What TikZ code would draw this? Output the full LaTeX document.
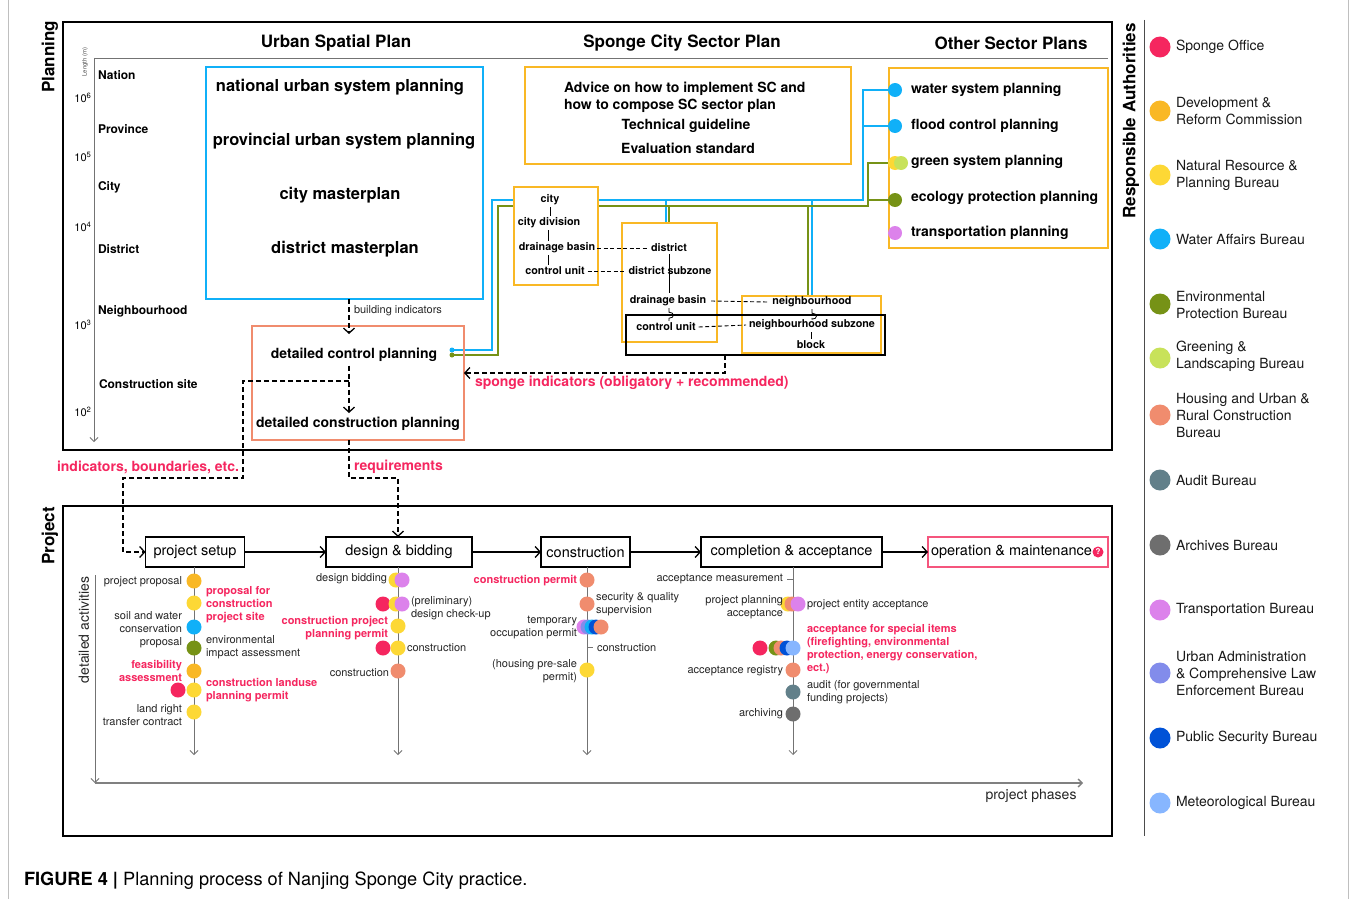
\documentclass[tikz,border=0pt]{standalone}
\usepackage{fontspec}
\setmainfont{TeX Gyre Heros}
\usetikzlibrary{arrows.meta,calc}
\pgfdeclarelayer{bg}
\pgfsetlayers{bg,main}
\definecolor{cSponge}{RGB}{245,38,95}
\definecolor{cDRC}{RGB}{249,184,37}
\definecolor{cNRPB}{RGB}{253,216,53}
\definecolor{cWater}{RGB}{16,176,248}
\definecolor{cEnv}{RGB}{118,146,22}
\definecolor{cGreen}{RGB}{200,226,90}
\definecolor{cHouse}{RGB}{240,140,110}
\definecolor{cAudit}{RGB}{98,128,138}
\definecolor{cArch}{RGB}{110,110,110}
\definecolor{cTrans}{RGB}{220,130,235}
\definecolor{cUrban}{RGB}{130,140,235}
\definecolor{cPolice}{RGB}{0,82,215}
\definecolor{cMeteo}{RGB}{135,182,255}
\definecolor{cPink}{RGB}{245,85,125}
\tikzset{
  every node/.style={inner sep=0pt, outer sep=0pt},
  fr/.style={draw=black, line width=2pt},
  hdr/.style={font=\fontsize{17}{20}\selectfont\bfseries},
  scl/.style={font=\fontsize{12}{14}\selectfont\bfseries, anchor=west},
  tkl/.style={font=\fontsize{11}{13}\selectfont},
  big/.style={font=\fontsize{16.5}{20}\selectfont\bfseries},
  mdb/.style={font=\fontsize{14}{17}\selectfont\bfseries},
  smb/.style={font=\fontsize{10.8}{13}\selectfont\bfseries},
  nt/.style={font=\fontsize{11}{13}\selectfont, text=black!85},
  rn/.style={font=\fontsize{11}{13}\selectfont\bfseries, text=cSponge},
  redlab/.style={font=\fontsize{14}{17}\selectfont\bfseries, text=cSponge},
  phbox/.style={draw=black, line width=1.3pt, minimum height=30pt, font=\fontsize{14.5}{17}\selectfont},
  leg/.style={font=\fontsize{14}{17}\selectfont, anchor=west, align=left, text=black!90},
  ldot/.style={circle, fill=#1, minimum size=21pt},
  pdot/.style={circle, fill=#1, minimum size=15pt},
  odot/.style={circle, fill=#1, minimum size=14pt},
  dsh/.style={draw=black, line width=1.3pt, dash pattern=on 5pt off 3pt},
  barb/.style={-{Straight Barb[length=5pt,width=11pt]}},
  sbarb/.style={-{Straight Barb[length=4pt,width=8pt]}},
  pl/.style={line width=2pt},
  gl/.style={draw=black!55, line width=0.8pt},
  obox/.style={draw=cDRC, line width=1.8pt},
  thd/.style={line width=0.9pt, dash pattern=on 4pt off 2.5pt},
}
\begin{document}
\begin{tikzpicture}[x=1pt,y=-1pt]
\useasboundingbox (0,0) rectangle (1356,899);
\begin{pgfonlayer}{bg}
\fill[white] (0,0) rectangle (1356,899);
\end{pgfonlayer}
\draw[black!25, line width=0.8pt] (8,0) -- (8,899) (1348,0) -- (1348,899);

% ================= PLANNING =================
\node[fr, minimum width=1049pt, minimum height=428pt] (planF) at (587.5,236) {};
\node[hdr, rotate=90] (plLab) at (50,57) {Planning};
\node[hdr] (hUSP) at (336,43) {Urban Spatial Plan};
\node[hdr] (hSC) at (682,43) {Sponge City Sector Plan};
\node[hdr] (hOS) at (1011,43) {Other Sector Plans};
\draw[gl] (94,58) -- (1108,58);
\draw[gl, sbarb] (94,58) -- (94,442);
\node[font=\fontsize{6}{7}\selectfont, rotate=90, text=black!70] (lenlab) at (85,62) {Length (m)};
\node[tkl] (t6) at (83,98) {10\textsuperscript{6}};
\node[tkl] (t5) at (83,157) {10\textsuperscript{5}};
\node[tkl] (t4) at (83,227) {10\textsuperscript{4}};
\node[tkl] (t3) at (83,325) {10\textsuperscript{3}};
\node[tkl] (t2) at (83,412) {10\textsuperscript{2}};
\node[scl] (sNat) at (98,75) {Nation};
\node[scl] (sPro) at (98,129) {Province};
\node[scl] (sCit) at (98,187) {City};
\node[scl] (sDis) at (98,249) {District};
\node[scl] (sNei) at (98,311) {Neighbourhood};
\node[scl] (sCon) at (99,384) {Construction site};

% urban spatial plan
\node[draw=cWater, line width=2pt, minimum width=277pt, minimum height=232pt] (uspbox) at (344.5,183) {};
\node[big] (u1) at (340,87) {national urban system planning};
\node[big] (u2) at (344,141) {provincial urban system planning};
\node[big] (u3) at (340,195) {city masterplan};
\node[big] (u4) at (345,249) {district masterplan};

\node[draw=cHouse, line width=2pt, minimum width=212pt, minimum height=114pt] (dcbox) at (358,383) {};
\node[mdb] (dcp) at (354,355) {detailed control planning};
\node[mdb] (dcsp) at (358,424) {detailed construction planning};
\node[circle, fill=cWater, minimum size=5pt] (sb) at (452,350) {};
\node[circle, fill=cEnv, minimum size=5pt] (sg) at (452,355) {};

% sponge city sector
\node[obox, minimum width=326pt, minimum height=97pt] (scbox) at (688,115.5) {};
\node[mdb, anchor=west, align=left] (adv) at (564,97.5) {Advice on how to implement SC and\\how to compose SC sector plan};
\node[mdb] (tg) at (686,126) {Technical guideline};
\node[mdb] (es) at (688,148) {Evaluation standard};

\node[obox, fill=white, minimum width=84pt, minimum height=98pt] (citybox) at (556,236) {};
\node[smb] (cty) at (550,200) {city};
\node[smb] (cdv) at (549,223) {city division};
\node[smb] (cdb) at (557,248) {drainage basin};
\node[smb] (ccu) at (555,271) {control unit};
\draw[line width=0.8pt] (cty.south) ++(0,2) -- ($(cty.south |- cdv.north)+(0,-2)$);
\draw[line width=0.8pt] ($(cdv.south)+(-1,2)$) -- ($(cdv.south |- cdb.north)+(-1,-2)$);
\draw[line width=0.8pt] ($(cdv.south |- cdb.south)+(-1,2)$) -- ($(cdv.south |- ccu.north)+(-1,-2)$);

\node[obox, minimum width=95pt, minimum height=119pt] (distbox) at (669.5,282.5) {};
\node[obox, minimum width=139pt, minimum height=57pt] (neibox) at (811.5,324.5) {};
\node[draw=black, line width=1.5pt, minimum width=259pt, minimum height=40pt] (blk) at (755.5,335) {};
\node[smb] (dis) at (669,248) {district};
\node[smb] (dsz) at (670,271) {district subzone};
\node[smb] (dbn) at (668,301) {drainage basin};
\node[smb] (dcu) at (666,327) {control unit};
\node[smb] (nbh) at (812,302) {neighbourhood};
\node[smb] (nbs) at (812,325) {neighbourhood subzone};
\node[smb] (blck) at (811,345) {block};
\draw[line width=0.8pt] ($(dis.south)+(0,2)$) -- ($(dis.south |- dbn.north)+(0,-3)$);
\draw[line width=0.8pt] ($(dis.south |- dbn.south)+(0,2)$) -- ++(0,4) to[out=0,in=0,looseness=2.5] ++(0,6) -- ($(dis.south |- dcu.north)+(0,-2)$);
\draw[line width=0.8pt] ($(nbh.south)+(0,2)$) -- ++(0,4) to[out=0,in=0,looseness=2.5] ++(0,6) -- ($(nbh.south |- nbs.north)+(0,-2)$);
\draw[line width=0.8pt] ($(blck.north |- nbs.south)+(0,2)$) -- ($(blck.north)+(0,-2)$);
\draw[thd] ($(cdb.east)+(2,0)$) -- ($(dis.west)+(-4,0)$);
\draw[thd] ($(ccu.east)+(3,0)$) -- ($(dsz.west)+(-3,0)$);
\draw[thd] ($(dbn.east)+(5,0)$) -- ($(nbh.west)+(-5,0)$);
\draw[thd] ($(dcu.east)+(3,0)$) -- ($(nbs.west)+(-3,0)$);

% other sector plans
\node[obox, minimum width=219pt, minimum height=180pt] (osbox) at (998.5,158) {};
\node[odot=cWater] (wdot) at (895,90) {};
\node[odot=cWater] (fdot) at (895,126) {};
\node[odot=cNRPB] (ydot) at (895,163) {};
\node[odot=cGreen] (gdot) at (901,163) {};
\node[odot=cEnv] (edot) at (895,200) {};
\node[odot=cTrans] (tdot) at (895,233) {};
\node[mdb, anchor=west] (o1) at (911,90) {water system planning};
\node[mdb, anchor=west] (o2) at (911,126) {flood control planning};
\node[mdb, anchor=west] (o3) at (911,162) {green system planning};
\node[mdb, anchor=west] (o4) at (911,198) {ecology protection planning};
\node[mdb, anchor=west] (o5) at (911,233) {transportation planning};

\coordinate (bx) at (863,200);
\coordinate (gx) at (868,206);
\begin{pgfonlayer}{bg}
\draw[pl, cWater] (sb.center) -- (492,350) -- (492,200) -- (bx) |- (wdot.center);
\draw[pl, cWater] (bx |- fdot.center) -- (fdot.center);
\draw[pl, cWater] (666,200) -- (distbox.north -| 666,0);
\draw[pl, cWater] (812,200) -- (neibox.north -| 812,0);
\draw[pl, cEnv] (sg.center) -- (498,355) -- (498,206) -- (gx) |- (ydot.center);
\draw[pl, cEnv] (gx |- edot.center) -- (edot.center);
\draw[pl, cEnv] (669,206) -- (distbox.north -| 669,0);
\draw[pl, cEnv] (808,206) -- (neibox.north -| 808,0);
\end{pgfonlayer}

% ================= LEGEND =================
\draw[black!70, line width=1pt] (1144,20) -- (1144,836);
\node[hdr, rotate=90] (raLab) at (1131,121) {Responsible Authorities};
\begin{scope}
\clip (1140,0) rectangle (1320,899);
\node[ldot=cSponge] (l1) at (1160,47) {};
\node[leg] at (1176,47) {Sponge Office};
\node[ldot=cDRC] (l2) at (1160,111) {};
\node[leg] at (1176,111.5) {Development \&\\Reform Commission};
\node[ldot=cNRPB] (l3) at (1160,175) {};
\node[leg] at (1176,175.5) {Natural Resource \&\\Planning Bureau};
\node[ldot=cWater] (l4) at (1160,239) {};
\node[leg] at (1176,239) {Water Affairs Bureau};
\node[ldot=cEnv] (l5) at (1160,304) {};
\node[leg] at (1176,305) {Environmental\\Protection Bureau};
\node[ldot=cGreen] (l6) at (1160,358) {};
\node[leg] at (1176,356.5) {Greening \&\\Landscaping Bureau};
\node[ldot=cHouse] (l7) at (1160,415) {};
\node[leg] at (1176,415) {Housing and Urban \&\\Rural Construction\\Bureau};
\node[ldot=cAudit] (l8) at (1160,480) {};
\node[leg] at (1176,480) {Audit Bureau};
\node[ldot=cArch] (l9) at (1160,545) {};
\node[leg] at (1176,545) {Archives Bureau};
\node[ldot=cTrans] (l10) at (1160,610) {};
\node[leg] at (1176,610) {Transportation Bureau};
\node[ldot=cUrban] (l11) at (1160,673) {};
\node[leg] at (1176,673) {Urban Administration\\\& Comprehensive Law\\Enforcement Bureau};
\node[ldot=cPolice] (l12) at (1160,738) {};
\node[leg] at (1176,738) {Public Security Bureau};
\node[ldot=cMeteo] (l13) at (1160,803) {};
\node[leg] at (1176,803) {Meteorological Bureau};
\end{scope}

% ================= PROJECT =================
\node[fr, minimum width=1049pt, minimum height=330pt] (projF) at (587.5,671) {};
\node[hdr, rotate=90] (prLab) at (50,536) {Project};
\node[font=\fontsize{14}{17}\selectfont, rotate=90, text=black!85] (daLab) at (84,630) {detailed activities};
\draw[gl, sbarb] (95,575) -- (95,783);
\draw[draw=black!50, line width=1.3pt, sbarb] (95,783) -- (1083,783);
\node[font=\fontsize{14}{17}\selectfont, text=black!85] (ppLab) at (1031,796) {project phases};

\node[phbox, minimum width=99pt] (setup) at (195,552) {project setup};
\node[phbox, minimum width=146pt] (design) at (399,552) {design \& bidding};
\node[phbox, minimum width=89pt] (constr) at (585.5,552) {construction};
\node[phbox, minimum width=181pt] (compl) at (791.5,552) {completion \& acceptance};
\node[draw=cPink, line width=1.3pt, minimum width=180pt, minimum height=30pt] (oper) at (1018,552) {};
\node[font=\fontsize{14.5}{17}\selectfont, anchor=west] (opertxt) at (931,552) {operation \& maintenance};
\node[circle, fill=cSponge, minimum size=11pt, text=white, font=\fontsize{8}{8}\selectfont\bfseries] (qicon) at (1098,552) {?};
\draw[line width=1.3pt, barb] (setup.east) -- (design.west);
\draw[line width=1.3pt, barb] (design.east) -- (constr.west);
\draw[line width=1.3pt, barb] (constr.east) -- (compl.west);
\draw[line width=1.3pt, barb] (compl.east) -- (oper.west);

% dashed flows
\coordinate (ba) at (349,334);
\coordinate (bb) at (349,413);
\coordinate (br1) at (349,381);
\coordinate (rq) at (398,478);
\coordinate (si) at (725,373);
\draw[dsh, barb] (uspbox.south -| ba) -- (ba);
\node[nt, anchor=west] (bilab) at (354,311) {building indicators};
\draw[dsh, barb] ($(dcp.south -| ba)+(0,4)$) -- (bb);
\draw[dsh, barb] (br1) -- (243,381) -- (243,478) -- (123,478) |- (setup.west);
\draw[dsh, barb] (dcbox.south -| ba) -- (349,478) -- (rq) -- (rq |- design.north);
\draw[dsh, barb] (blk.south -| si) -- (si) -- (dcbox.east |- si);
\node[redlab, anchor=west] (silab) at (475,383) {sponge indicators (obligatory + recommended)};
\node[redlab, anchor=west] (iblab) at (57,467) {indicators, boundaries, etc.};
\node[redlab, anchor=west] (rqlab) at (354,467) {requirements};

\coordinate (tl1) at (194,755);
\coordinate (tl2) at (398,755);
\coordinate (tl3) at (587,755);
\coordinate (tl4) at (793,755);
\draw[gl, sbarb] (setup.south -| tl1) -- (tl1);
\draw[gl, sbarb] (design.south -| tl2) -- (tl2);
\draw[gl, sbarb] (constr.south -| tl3) -- (tl3);
\draw[gl, sbarb] (compl.south -| tl4) -- (tl4);

% project setup activities
\node[pdot=cDRC] (a1) at (194,581) {};
\node[pdot=cNRPB] (a2) at (194,603) {};
\node[pdot=cWater] (a3) at (194,627) {};
\node[pdot=cEnv] (a4) at (194,648) {};
\node[pdot=cDRC] (a5) at (194,671) {};
\node[pdot=cSponge] (a6r) at (178,690) {};
\node[pdot=cNRPB] (a6) at (194,690) {};
\node[pdot=cNRPB] (a7) at (194,712) {};
\node[nt, anchor=east] at (182,582) {project proposal};
\node[rn, anchor=west, align=left] at (206,605) {proposal for\\construction\\project site};
\node[nt, anchor=east, align=right] at (182,630) {soil and water\\conservation\\proposal};
\node[nt, anchor=west, align=left] at (206,647.5) {environmental\\impact assessment};
\node[rn, anchor=east, align=right] at (182,670.5) {feasibility\\assessment};
\node[rn, anchor=west, align=left] at (206,690.5) {construction landuse\\planning permit};
\node[nt, anchor=east, align=right] at (182,715.5) {land right\\transfer contract};

% design & bidding activities
\node[pdot=cNRPB] (b1y) at (396,580) {};
\node[pdot=cTrans] (b1) at (402,580) {};
\node[pdot=cSponge] (b2r) at (383,604) {};
\node[pdot=cNRPB] (b2y) at (396,604) {};
\node[pdot=cTrans] (b2) at (402,604) {};
\node[pdot=cNRPB] (b3) at (398,626) {};
\node[pdot=cSponge] (b4r) at (383,648) {};
\node[pdot=cNRPB] (b4) at (398,648) {};
\node[pdot=cHouse] (b5) at (398,671) {};
\node[nt, anchor=east] at (387,579) {design bidding};
\node[nt, anchor=west, align=left] at (411,608.5) {(preliminary)\\design check-up};
\node[rn, anchor=east, align=right] at (388,628) {construction project\\planning permit};
\node[nt, anchor=west] at (407,648) {construction};
\node[nt, anchor=east] at (389,673) {construction};

% construction activities
\node[pdot=cHouse] (c1) at (587,580) {};
\node[pdot=cHouse] (c2) at (587,604) {};
\node[pdot=cTrans] (c3a) at (584,627) {};
\node[pdot=cUrban] (c3b) at (588,627) {};
\node[pdot=cWater] (c3c) at (592,627) {};
\node[pdot=cPolice] (c3d) at (596,627) {};
\node[pdot=cHouse] (c3e) at (601,627) {};
\node[pdot=cNRPB] (c5) at (587,670) {};
\node[rn, anchor=east] at (577,581) {construction permit};
\node[nt, anchor=west, align=left] at (596,604.5) {security \& quality\\supervision};
\node[nt, anchor=east, align=right] at (577,627.5) {temporary\\occupation permit};
\draw[gl] (588,647) -- (593,647);
\node[nt, anchor=west] at (597,648) {construction};
\node[nt, anchor=east, align=right] at (577,671.5) {(housing pre-sale\\permit)};

% completion activities
\draw[gl] (787,579) -- (793,579);
\node[nt, anchor=east] at (783,579) {acceptance measurement};
\node[pdot=cNRPB] (d1y) at (788,604) {};
\node[pdot=cHouse] (d1s) at (792,604) {};
\node[pdot=cTrans] (d1) at (798,604) {};
\node[nt, anchor=east, align=right] at (783,607.5) {project planning\\acceptance};
\node[nt, anchor=west] at (807,605) {project entity acceptance};
\node[pdot=cSponge] (d2r) at (760,648) {};
\node[pdot=cEnv] (d2a) at (776,648) {};
\node[pdot=cHouse] (d2b) at (781,648) {};
\node[pdot=cPolice] (d2c) at (787,648) {};
\node[pdot=cMeteo] (d2d) at (793,648) {};
\node[rn, anchor=west, align=left] at (807,649) {acceptance for special items\\(firefighting, environmental\\protection, energy conservation,\\ect.)};
\node[pdot=cHouse] (d3) at (793,670) {};
\node[nt, anchor=east] at (783,671) {acceptance registry};
\node[pdot=cAudit] (d4) at (793,692) {};
\node[nt, anchor=west, align=left] at (807,692.5) {audit (for governmental\\funding projects)};
\node[pdot=cArch] (d5) at (793,714) {};
\node[nt, anchor=east] at (783,714) {archiving};

% caption
\node[anchor=west, font=\fontsize{18.2}{21}\selectfont] (cap) at (24,881) {\textbf{FIGURE 4 |} Planning process of Nanjing Sponge City practice.};
\end{tikzpicture}
\end{document}
